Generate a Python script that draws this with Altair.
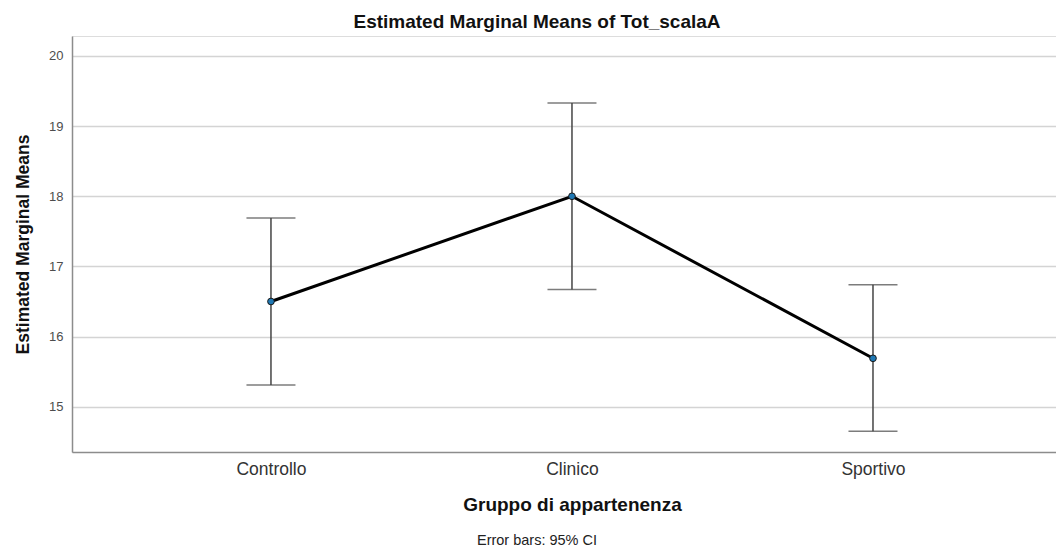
import altair as alt
import pandas as pd

groups = ["Controllo", "Clinico", "Sportivo"]
means = [16.50, 18.00, 15.69]
ci_low = [15.31, 16.67, 14.65]
ci_high = [17.69, 19.33, 16.74]
y_ticks = [15, 16, 17, 18, 19, 20]

df = pd.DataFrame({"idx": list(range(len(groups))), "group": groups,
                   "mean": means, "lo": ci_low, "hi": ci_high})

FONT = "Liberation Sans"

label_expr = "[" + ",".join("'%s'" % g for g in groups) + "][datum.value]"

x_scale = alt.Scale(domain=[-0.661, 2.608], nice=False, zero=False)
x_axis = alt.Axis(
    title="Gruppo di appartenenza",
    values=list(range(len(groups))),
    labelExpr=label_expr,
    labelAngle=0,
    labelFontSize=17.5,
    labelColor="#333333",
    labelFont=FONT,
    labelPadding=8,
    ticks=False,
    grid=False,
    domainColor="#8c8c8c",
    domainWidth=1.5,
    titleFont=FONT,
    titleFontSize=19,
    titleFontWeight="bold",
    titleColor="#111111",
    titlePadding=18,
    titleX=500,
    titleAlign="center",
    titleAnchor="start",
)
y_scale = alt.Scale(domain=[14.354, 20.285], nice=False, zero=False)
y_axis = alt.Axis(
    title="Estimated Marginal Means",
    values=y_ticks,
    format="d",
    labelFontSize=13,
    labelColor="#4d4d4d",
    labelFont=FONT,
    labelPadding=9,
    ticks=False,
    grid=True,
    gridColor="#d4d4d4",
    gridWidth=1.5,
    domainColor="#8c8c8c",
    domainWidth=1.5,
    titleFont=FONT,
    titleFontSize=17.5,
    titleFontWeight="bold",
    titleColor="#111111",
    titlePadding=16,
)

base = alt.Chart(df)

bars = base.mark_rule(color="#444444", strokeWidth=1.5).encode(
    x=alt.X("idx:Q", scale=x_scale, axis=x_axis),
    y=alt.Y("lo:Q", scale=y_scale, axis=y_axis),
    y2="hi:Q",
)
cap_lo = base.mark_tick(color="#444444", thickness=1.5, size=49, orient="horizontal").encode(
    x="idx:Q", y="lo:Q"
)
cap_hi = base.mark_tick(color="#444444", thickness=1.5, size=49, orient="horizontal").encode(
    x="idx:Q", y="hi:Q"
)
line = base.mark_line(color="#000000", strokeWidth=3).encode(x="idx:Q", y="mean:Q")
pts = base.mark_point(filled=True, fill="#1f78b4", stroke="#1a1a1a", strokeWidth=1,
                      size=45, opacity=1).encode(x="idx:Q", y="mean:Q")
note = alt.Chart(pd.DataFrame({"t": ["Error bars: 95% CI"]})).mark_text(
    font=FONT, fontSize=14.5, color="#222222", align="center", baseline="middle"
).encode(text="t:N", x=alt.value(465), y=alt.value(505))

chart = (
    alt.layer(bars, cap_lo, cap_hi, line, pts, note)
    .properties(
        width=984,
        height=416,
        autosize=alt.AutoSizeParams(type="none"),
        padding={"left": 64, "top": 28, "right": 0, "bottom": 98},
        title=alt.TitleParams(
            "Estimated Marginal Means of Tot_scalaA",
            font=FONT,
            fontSize=19,
            fontWeight="bold",
            color="#111111",
            anchor="middle",
            dx=-27,
            offset=4,
        ),
    )
    .configure_view(stroke=None)
    .configure(background="white")
)

chart.save("out.html", embed_options={"renderer": "svg", "actions": False})
